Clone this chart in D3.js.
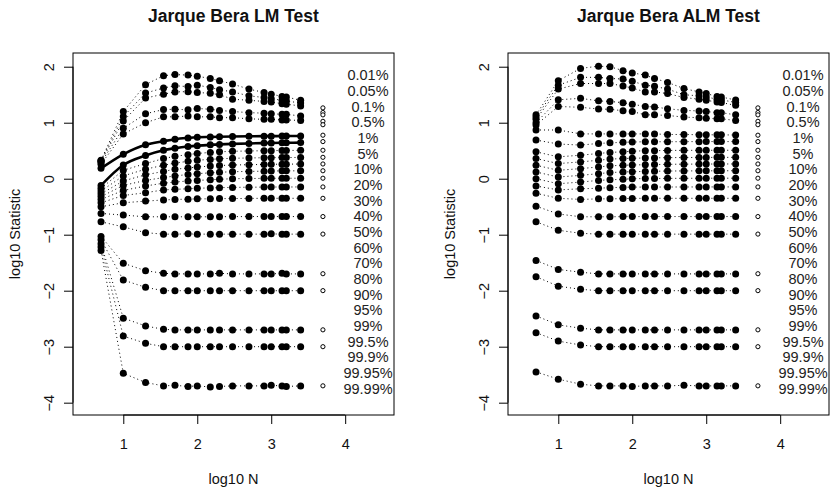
<!DOCTYPE html>
<html>
<head>
<meta charset="utf-8">
<script src="https://cdn.jsdelivr.net/npm/d3@7"></script>
<style>
  body { margin: 0; background: #fff; }
  svg text { font-family: "Liberation Sans", Arial, Helvetica, sans-serif; fill: #111; }
</style>
</head>
<body>
<svg id="chart" width="837" height="492"></svg>
<script>
// data {{{ //

const sampleSizes = [5, 10, 20, 35, 50, 75, 100, 150, 200, 300, 500, 800, 1000, 1400, 1600, 2500];
const limitN = 5000;

const quantileLabels = ["0.01%", "0.05%", "0.1%", "0.5%", "1%", "5%", "10%", "20%", "30%", "40%",
  "50%", "60%", "70%", "80%", "90%", "95%", "99%", "99.5%", "99.9%", "99.95%", "99.99%"];

// log10 of the critical values, one row per quantile, one entry per sample size
const lmValues = [
  [0.33, 1.20, 1.68, 1.84, 1.86, 1.85, 1.83, 1.79, 1.75, 1.69, 1.60, 1.54, 1.51, 1.47, 1.46, 1.40],
  [0.32, 1.11, 1.53, 1.62, 1.66, 1.645, 1.67, 1.63, 1.59, 1.55, 1.48, 1.45, 1.43, 1.40, 1.39, 1.35],
  [0.31, 1.03, 1.44, 1.51, 1.55, 1.555, 1.54, 1.525, 1.50, 1.42, 1.40, 1.38, 1.37, 1.34, 1.33, 1.30],
  [0.29, 0.90, 1.16, 1.235, 1.24, 1.23, 1.255, 1.24, 1.22, 1.20, 1.18, 1.17, 1.16, 1.15, 1.15, 1.12],
  [0.26, 0.80, 1.00, 1.105, 1.105, 1.12, 1.105, 1.105, 1.09, 1.09, 1.07, 1.06, 1.06, 1.05, 1.05, 1.04],
  [0.185, 0.435, 0.605, 0.67, 0.705, 0.728, 0.74, 0.746, 0.75, 0.754, 0.757, 0.76, 0.76, 0.762, 0.762, 0.764],
  [-0.12, 0.245, 0.415, 0.51, 0.545, 0.575, 0.59, 0.605, 0.613, 0.622, 0.63, 0.636, 0.638, 0.641, 0.642, 0.645],
  [-0.17, 0.15, 0.27, 0.36, 0.40, 0.43, 0.45, 0.47, 0.48, 0.49, 0.495, 0.50, 0.50, 0.505, 0.505, 0.506],
  [-0.22, 0.05, 0.17, 0.24, 0.28, 0.31, 0.33, 0.345, 0.355, 0.365, 0.37, 0.375, 0.376, 0.378, 0.378, 0.38],
  [-0.27, -0.04, 0.07, 0.13, 0.17, 0.19, 0.21, 0.225, 0.235, 0.245, 0.25, 0.255, 0.257, 0.26, 0.26, 0.262],
  [-0.32, -0.12, -0.03, 0.02, 0.05, 0.075, 0.09, 0.105, 0.115, 0.125, 0.13, 0.135, 0.137, 0.14, 0.14, 0.141],
  [-0.37, -0.21, -0.13, -0.08, -0.06, -0.04, -0.03, -0.02, -0.01, 0.0, 0.003, 0.006, 0.007, 0.008, 0.008, 0.009],
  [-0.43, -0.30, -0.25, -0.20, -0.19, -0.18, -0.17, -0.165, -0.16, -0.155, -0.152, -0.15, -0.149, -0.148, -0.148, -0.147],
  [-0.50, -0.43, -0.40, -0.38, -0.37, -0.365, -0.36, -0.36, -0.355, -0.355, -0.352, -0.35, -0.35, -0.35, -0.35, -0.35],
  [-0.62, -0.65, -0.68, -0.68, -0.68, -0.68, -0.68, -0.68, -0.678, -0.677, -0.676, -0.676, -0.676, -0.676, -0.676, -0.676],
  [-0.77, -0.86, -0.964, -0.99, -0.99, -0.985, -0.99, -0.99, -0.99, -0.99, -0.99, -0.99, -0.985, -0.99, -0.99, -0.99],
  [-1.03, -1.51, -1.643, -1.69, -1.70, -1.70, -1.70, -1.70, -1.69, -1.70, -1.70, -1.70, -1.70, -1.69, -1.70, -1.70],
  [-1.09, -1.81, -1.94, -2.00, -2.00, -2.00, -2.00, -2.00, -2.00, -2.00, -2.00, -2.00, -2.00, -2.00, -2.00, -2.00],
  [-1.16, -2.49, -2.63, -2.69, -2.70, -2.70, -2.70, -2.70, -2.70, -2.70, -2.70, -2.70, -2.70, -2.70, -2.70, -2.70],
  [-1.22, -2.81, -2.94, -3.00, -3.00, -3.00, -3.00, -3.00, -3.00, -3.00, -3.00, -3.00, -3.00, -3.00, -3.00, -3.00],
  [-1.28, -3.475, -3.64, -3.70, -3.69, -3.71, -3.70, -3.72, -3.71, -3.70, -3.70, -3.70, -3.69, -3.70, -3.71, -3.70]
];

const almValues = [
  [1.14, 1.75, 1.97, 2.01, 2.00, 1.93, 1.89, 1.85, 1.79, 1.72, 1.61, 1.55, 1.52, 1.47, 1.46, 1.405],
  [1.10, 1.67, 1.81, 1.81, 1.79, 1.78, 1.74, 1.67, 1.65, 1.60, 1.50, 1.48, 1.46, 1.42, 1.41, 1.36],
  [1.06, 1.60, 1.70, 1.70, 1.70, 1.655, 1.62, 1.55, 1.55, 1.52, 1.45, 1.42, 1.40, 1.37, 1.36, 1.31],
  [1.00, 1.41, 1.435, 1.39, 1.38, 1.357, 1.33, 1.29, 1.28, 1.25, 1.22, 1.21, 1.20, 1.18, 1.18, 1.14],
  [0.96, 1.29, 1.275, 1.245, 1.24, 1.214, 1.20, 1.14, 1.14, 1.13, 1.10, 1.09, 1.08, 1.07, 1.07, 1.04],
  [0.87, 0.87, 0.80, 0.80, 0.80, 0.80, 0.80, 0.80, 0.80, 0.79, 0.79, 0.785, 0.785, 0.783, 0.783, 0.78],
  [0.69, 0.62, 0.60, 0.63, 0.64, 0.65, 0.655, 0.66, 0.66, 0.66, 0.662, 0.662, 0.663, 0.663, 0.663, 0.663],
  [0.48, 0.39, 0.42, 0.45, 0.47, 0.48, 0.49, 0.50, 0.50, 0.505, 0.506, 0.507, 0.507, 0.508, 0.508, 0.508],
  [0.36, 0.27, 0.30, 0.33, 0.35, 0.36, 0.365, 0.37, 0.372, 0.376, 0.378, 0.38, 0.38, 0.381, 0.381, 0.382],
  [0.24, 0.15, 0.18, 0.21, 0.23, 0.24, 0.245, 0.25, 0.253, 0.257, 0.26, 0.261, 0.262, 0.262, 0.263, 0.263],
  [0.12, 0.03, 0.06, 0.09, 0.11, 0.12, 0.125, 0.13, 0.133, 0.137, 0.139, 0.14, 0.141, 0.141, 0.142, 0.142],
  [0.00, -0.09, -0.06, -0.03, -0.02, -0.01, 0.0, 0.003, 0.004, 0.006, 0.007, 0.008, 0.008, 0.009, 0.009, 0.009],
  [-0.13, -0.20, -0.18, -0.17, -0.16, -0.155, -0.15, -0.15, -0.149, -0.148, -0.148, -0.147, -0.147, -0.147, -0.147, -0.147],
  [-0.26, -0.35, -0.37, -0.36, -0.36, -0.355, -0.352, -0.35, -0.35, -0.35, -0.35, -0.35, -0.35, -0.35, -0.35, -0.35],
  [-0.49, -0.63, -0.68, -0.68, -0.68, -0.677, -0.677, -0.676, -0.676, -0.676, -0.676, -0.676, -0.676, -0.676, -0.676, -0.676],
  [-0.77, -0.92, -0.975, -0.99, -0.99, -0.99, -0.99, -0.99, -0.99, -0.99, -0.99, -0.99, -0.99, -0.99, -0.99, -0.99],
  [-1.46, -1.62, -1.67, -1.70, -1.70, -1.70, -1.70, -1.70, -1.70, -1.70, -1.70, -1.70, -1.70, -1.70, -1.70, -1.70],
  [-1.75, -1.92, -1.975, -2.00, -2.00, -2.00, -2.00, -2.00, -2.00, -2.00, -2.00, -2.00, -2.00, -2.00, -2.00, -2.00],
  [-2.45, -2.61, -2.67, -2.70, -2.70, -2.70, -2.70, -2.70, -2.70, -2.70, -2.70, -2.70, -2.70, -2.70, -2.70, -2.70],
  [-2.75, -2.90, -2.97, -3.00, -3.00, -3.00, -3.00, -3.00, -3.00, -3.00, -3.00, -3.00, -3.00, -3.00, -3.00, -3.00],
  [-3.45, -3.58, -3.67, -3.70, -3.70, -3.70, -3.71, -3.70, -3.70, -3.70, -3.69, -3.70, -3.70, -3.70, -3.70, -3.70]
];

// limiting chi-square(2) critical values (hollow circles)
const limitValues = [1.265, 1.182, 1.140, 1.025, 0.964, 0.777, 0.663, 0.508, 0.382, 0.263,
  0.142, 0.009, -0.147, -0.350, -0.676, -0.989, -1.697, -1.999, -2.699, -3.000, -3.699];

const xTicks = [1, 2, 3, 4];
const yTicks = [-4, -3, -2, -1, 0, 1, 2];

// }}} data //

const svg = d3.select("#chart");
const panelW = 321, plotTop = 53, plotBottom = 415;

const panels = [
  { title: "Jarque Bera LM Test", values: lmValues, solid: [5, 6], left: 73 },
  { title: "Jarque Bera ALM Test", values: almValues, solid: [], left: 508 }
];

panels.forEach(function(p) {
  const g = svg.append("g").attr("transform", "translate(" + p.left + ",0)");

  const x = d3.scaleLinear().domain([0.32, 4.66]).range([0, panelW]);
  const y = d3.scaleLinear().domain([-4.22, 2.245]).range([plotBottom, plotTop]);

  // rows: dotted lines, thick solid for the highlighted levels
  const line = d3.line()
    .x((d, i) => x(Math.log10(sampleSizes[i])))
    .y(d => y(d));

  p.values.forEach(function(row, r) {
    const solid = p.solid.indexOf(r) >= 0;
    g.append("path")
      .attr("d", line.curve(solid ? d3.curveMonotoneX : d3.curveLinear)(row))
      .attr("fill", "none")
      .attr("stroke", "#000")
      .attr("stroke-width", solid ? 2.6 : 1)
      .attr("stroke-dasharray", solid ? null : "1,3");
  });

  p.values.forEach(function(row) {
    g.append("g")
      .selectAll("circle")
      .data(row)
      .enter().append("circle")
      .attr("cx", (d, i) => x(Math.log10(sampleSizes[i])))
      .attr("cy", d => y(d))
      .attr("r", 3.5)
      .attr("fill", "#000");
  });

  // limiting values
  g.append("g")
    .selectAll("circle")
    .data(limitValues)
    .enter().append("circle")
    .attr("cx", x(Math.log10(limitN)))
    .attr("cy", d => y(d))
    .attr("r", 2.1)
    .attr("fill", "#fff")
    .attr("stroke", "#000")
    .attr("stroke-width", 1);

  // quantile labels
  const labY = d3.scaleLinear().domain([0, quantileLabels.length - 1]).range([y(1.85), y(-3.75)]);
  g.append("g")
    .selectAll("text")
    .data(quantileLabels)
    .enter().append("text")
    .attr("x", 295)
    .attr("y", (d, i) => labY(i))
    .attr("dy", "0.35em")
    .attr("text-anchor", "middle")
    .style("font-size", "14.5px")
    .style("fill", "#222")
    .text(d => d);

  // box
  g.append("rect")
    .attr("x", 0).attr("y", plotTop)
    .attr("width", panelW).attr("height", plotBottom - plotTop)
    .attr("fill", "none").attr("stroke", "#000").attr("stroke-width", 1);

  // x-axis
  const xa = g.append("g")
    .attr("transform", "translate(0," + plotBottom + ")")
    .call(d3.axisBottom(x).tickValues(xTicks).tickSize(9).tickSizeOuter(0).tickPadding(15).tickFormat(d3.format("d")));
  xa.select(".domain").attr("d", "M" + x(1) + ",0H" + x(4));
  xa.selectAll(".tick text").style("font-size", "14.5px");

  // y-axis
  const ya = g.append("g")
    .call(d3.axisLeft(y).tickValues(yTicks).tickSize(9).tickSizeOuter(0)
      .tickFormat(d => d < 0 ? "\u2212" + Math.abs(d) : String(d)));
  ya.select(".domain").attr("d", "M0," + y(-4) + "V" + y(2));
  ya.selectAll(".tick text")
    .attr("transform", "rotate(-90)")
    .attr("x", 0)
    .attr("y", -19.5)
    .attr("dy", 0)
    .attr("text-anchor", "middle")
    .style("font-size", "14.5px");

  // titles
  g.append("text")
    .attr("x", panelW / 2).attr("y", 22)
    .attr("text-anchor", "middle")
    .attr("font-weight", "bold")
    .style("font-size", "17.5px")
    .text(p.title);

  g.append("text")
    .attr("x", panelW / 2).attr("y", 484)
    .attr("text-anchor", "middle")
    .style("font-size", "14.5px")
    .text("log10 N");

  g.append("text")
    .attr("transform", "translate(-53," + ((plotTop + plotBottom) / 2) + ") rotate(-90)")
    .attr("text-anchor", "middle")
    .style("font-size", "14.5px")
    .text("log10 Statistic");
});
</script>
</body>
</html>
